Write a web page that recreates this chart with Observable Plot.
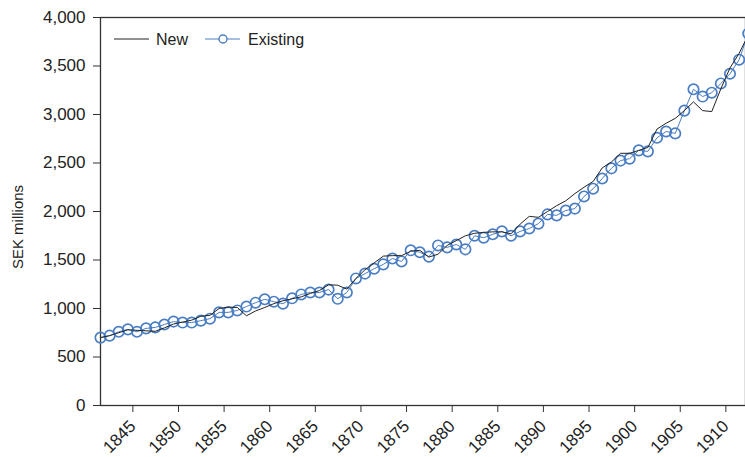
<!DOCTYPE html>
<html>
<head>
<meta charset="utf-8">
<script src="https://cdn.jsdelivr.net/npm/d3@7"></script>
<script src="https://cdn.jsdelivr.net/npm/@observablehq/plot@0.6"></script>
<style>
  html, body { margin: 0; padding: 0; background: #fff; }
  #chart { position: relative; width: 745px; height: 457px; }
</style>
</head>
<body>
<div id="chart"></div>
<script>
const years = [1842,1843,1844,1845,1846,1847,1848,1849,1850,1851,1852,1853,1854,1855,1856,1857,1858,1859,1860,1861,1862,1863,1864,1865,1866,1867,1868,1869,1870,1871,1872,1873,1874,1875,1876,1877,1878,1879,1880,1881,1882,1883,1884,1885,1886,1887,1888,1889,1890,1891,1892,1893,1894,1895,1896,1897,1898,1899,1900,1901,1902,1903,1904,1905,1906,1907,1908,1909,1910,1911,1912,1913];

const newValues = [700,720,750,780,775,770,765,800,840,860,880,920,930,1000,1015,1010,925,975,1010,1050,1080,1100,1120,1155,1185,1245,1240,1200,1310,1400,1470,1540,1545,1545,1590,1600,1530,1560,1650,1700,1750,1775,1785,1790,1790,1770,1870,1950,1940,2000,2060,2110,2185,2250,2310,2450,2510,2600,2600,2630,2660,2850,2910,2960,3040,3130,3040,3030,3265,3480,3630,3820];

const existingValues = [700,720,760,785,760,795,805,835,865,855,855,875,895,960,960,980,1020,1060,1095,1070,1050,1105,1145,1165,1165,1195,1100,1165,1310,1360,1410,1455,1515,1485,1600,1580,1535,1650,1630,1660,1610,1750,1730,1765,1795,1750,1795,1825,1875,1970,1960,2010,2030,2155,2235,2340,2445,2525,2545,2630,2620,2760,2825,2805,3040,3260,3185,3225,3320,3420,3565,3835];

const yTicks = [0,500,1000,1500,2000,2500,3000,3500,4000];
const xTicks = [1845,1850,1855,1860,1865,1870,1875,1880,1885,1890,1895,1900,1905,1910];

const seriesNames = ["New", "Existing"];
const seriesColors = ["#222222", "#4a7ec4"];
const yLabel = "SEK millions";

const newData = years.map((year, i) => ({year, value: newValues[i]}));
const existingData = years.map((year, i) => ({year, value: existingValues[i]}));

const FONT = "'Liberation Sans', Arial, sans-serif";

const plot = Plot.plot({
  width: 745,
  height: 457,
  marginLeft: 100,
  marginRight: 0,
  marginTop: 17,
  marginBottom: 52,
  style: {fontFamily: FONT, fontSize: "17px", color: "#222", background: "#fff"},
  x: {domain: [1842, 1912.7]},
  y: {domain: [0, 4000]},
  marks: [
    Plot.axisY({ticks: yTicks, tickFormat: d3.format(","), tickSize: 7, tickPadding: 8, label: null, stroke: "#333", fontSize: 17}),
    Plot.axisX({ticks: xTicks, tickFormat: d => String(d), tickSize: 7, tickPadding: 11, tickRotate: -45, label: null, stroke: "#333", fontSize: 17, dx: 5}),
    Plot.frame({stroke: "#333", strokeWidth: 1.3}),
    Plot.line(existingData, {x: "year", y: "value", stroke: seriesColors[1], strokeWidth: 1}),
    Plot.dot(existingData, {x: "year", y: "value", r: 5.2, stroke: seriesColors[1], strokeWidth: 1.7, fill: "none"}),
    Plot.line(newData, {x: "year", y: "value", stroke: seriesColors[0], strokeWidth: 1})
  ]
});

document.getElementById("chart").appendChild(plot);

const svg = d3.select(plot);

// Y axis title
svg.append("text")
  .attr("transform", "translate(23,227) rotate(-90)")
  .attr("text-anchor", "middle")
  .attr("font-family", FONT).attr("font-size", 15).attr("fill", "#222")
  .text(yLabel);

// Legend (top-left inside frame)
const lg = svg.append("g").attr("font-family", FONT).attr("font-size", 16).attr("fill", "#222").attr("text-anchor", "start");
lg.append("line").attr("x1", 114).attr("x2", 149).attr("y1", 39).attr("y2", 39).attr("stroke", seriesColors[0]).attr("stroke-width", 1);
lg.append("text").attr("x", 156).attr("y", 45).text(seriesNames[0]);
lg.append("line").attr("x1", 205).attr("x2", 240).attr("y1", 39).attr("y2", 39).attr("stroke", seriesColors[1]).attr("stroke-width", 1);
lg.append("circle").attr("cx", 223).attr("cy", 39).attr("r", 4).attr("stroke", seriesColors[1]).attr("stroke-width", 1.4).attr("fill", "#fff");
lg.append("text").attr("x", 248).attr("y", 45).text(seriesNames[1]);
</script>
</body>
</html>
